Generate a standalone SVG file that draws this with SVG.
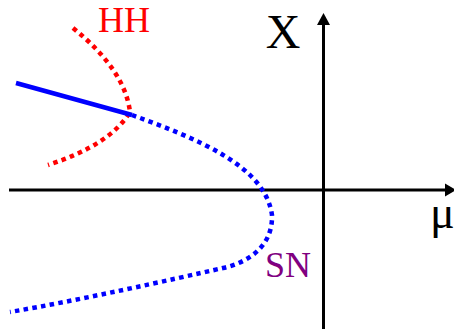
<svg xmlns="http://www.w3.org/2000/svg" width="454" height="329" viewBox="0 0 454 329">
<style>
.axis{stroke:#000;stroke-width:3;fill:none}
.head{fill:#000}
.lbl{font-family:"Liberation Serif","Times New Roman",serif}
.dotb{stroke:#0000ff;stroke-width:4.5;fill:none;stroke-dasharray:4.5 4.3}
.dotr{stroke:#ff0000;stroke-width:4.5;fill:none;stroke-dasharray:4.5 4.3}
.solid{stroke:#0000ff;stroke-width:4.5;fill:none}
</style>
<rect width="454" height="329" fill="#fff"/>
<g id="axes">
<line class="axis" x1="9" y1="190" x2="447" y2="190"/>
<polygon class="head" points="456,190 445,183.5 445,196.5"/>
<line class="axis" x1="323.5" y1="329" x2="323.5" y2="22"/>
<polygon class="head" points="323.5,13 317,25 330,25"/>
</g>
<g id="curves">
<path class="dotr" d="M73,28 Q125,70 130,112 Q110,145 48,165"/>
<line class="solid" x1="16" y1="83" x2="132" y2="115"/>
<path class="dotb" d="M132,115 C195,138 265,165 272,215 C273,245 250,262 223,268 C170,280 80,300 10,312"/>
</g>
<g id="labels">
<text class="lbl" x="283" y="48" font-size="48" text-anchor="middle" fill="#000">X</text>
<text class="lbl" x="430" y="228" font-size="46" fill="#000">μ</text>
<text class="lbl" x="124" y="32" font-size="36" text-anchor="middle" fill="#ff0000">HH</text>
<text class="lbl" x="265" y="277" font-size="36" fill="#800080">SN</text>
</g>
</svg>
